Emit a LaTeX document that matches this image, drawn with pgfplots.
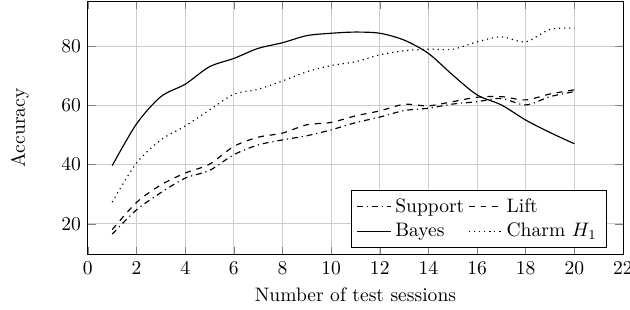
\documentclass[border=0pt]{standalone}
\usepackage{pgfplots}
\pgfplotsset{compat=1.18}
\usetikzlibrary{calc}
\begin{document}
\begin{tikzpicture}
\begin{axis}[
  scale only axis,
  width=274pt, height=130pt,
  xmin=0, xmax=22, ymin=9.5, ymax=95.2,
  xtick={0,2,...,22}, ytick={20,40,60,80},
  grid=major,
  major grid style={gray!40},
  xlabel={Number of test sessions},
  ylabel={Accuracy},
  ylabel style={at={(axis description cs:-0.127,0.5)}, anchor=center},
  legend columns=2,
  legend cell align=left,
  legend style={at={(0.97,0.028)}, anchor=south east, draw=black, fill=white},
  every axis plot/.append style={semithick, black, no markers},
]
\addplot[dash dot, smooth] coordinates {
(1,16.5)(2,24.7)(3,30.5)(4,35.4)(5,38.0)(6,43.3)(7,46.6)(8,48.3)(9,49.7)(10,51.7)
(11,54.1)(12,56.0)(13,58.2)(14,59.0)(15,60.4)(16,61.2)(17,62.3)(18,60.1)(19,62.9)(20,64.6)};
\addlegendentry{Support}
\addplot[dashed, smooth] coordinates {
(1,18.0)(2,27.2)(3,33.1)(4,37.1)(5,40.1)(6,46.1)(7,49.2)(8,50.6)(9,53.4)(10,54.2)
(11,56.4)(12,58.1)(13,60.3)(14,59.8)(15,61.2)(16,62.7)(17,62.9)(18,61.8)(19,63.8)(20,65.2)};
\addlegendentry{Lift}
\addplot[solid, smooth] coordinates {
(1,39.6)(2,53.7)(3,62.9)(4,67.1)(5,73.0)(6,75.8)(7,79.2)(8,81.1)(9,83.5)(10,84.3)
(11,84.7)(12,84.3)(13,82.0)(14,77.5)(15,70.2)(16,63.5)(17,60.1)(18,55.0)(19,50.8)(20,47.0)};
\addlegendentry{Bayes}
\addplot[dotted, smooth] coordinates {
(1,27.3)(2,40.5)(3,48.3)(4,53.0)(5,58.4)(6,63.7)(7,65.4)(8,68.2)(9,71.3)(10,73.4)
(11,74.7)(12,77.0)(13,78.4)(14,78.9)(15,78.9)(16,81.4)(17,83.1)(18,81.4)(19,85.6)(20,86.0)};
\addlegendentry{Charm $H_1$}
\end{axis}
\pgfresetboundingbox
\path[use as bounding box] ($(current axis.south west)+(-45pt,-28.2pt)$) rectangle ($(current axis.north east)+(3.6pt,0.5pt)$);
\end{tikzpicture}
\end{document}
